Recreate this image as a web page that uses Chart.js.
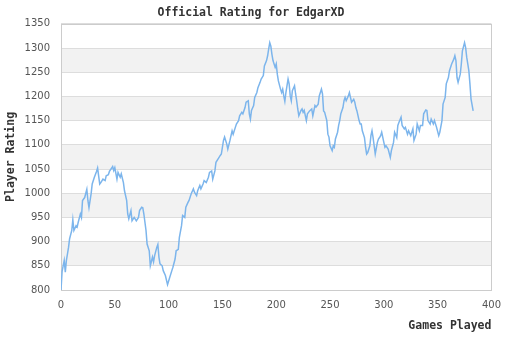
<!DOCTYPE html>
<html>
<head>
<meta charset="utf-8">
<script src="https://cdn.jsdelivr.net/npm/chart.js@4.4.1/dist/chart.umd.min.js"></script>
<style>
    body { margin: 0; background: #fff; }
    #wrap { width: 510px; height: 340px; }
</style>
</head>
<body>
<div id="wrap"><canvas id="ratingChart" width="510" height="340"></canvas></div>
<script>
// games played vs. official rating
const games = [
    0, 1, 2, 3, 4, 5, 7, 8, 10, 11, 12, 14, 15, 16, 18, 19, 20, 22, 24, 25,
    26, 28, 29, 31, 33, 34, 36, 37, 39, 41, 42, 44, 45, 48, 49, 50, 52, 53, 55, 56,
    58, 59, 61, 62, 63, 65, 66, 68, 70, 72, 73, 75, 76, 77, 79, 80, 82, 83, 85, 86,
    87, 89, 90, 91, 92, 94, 95, 97, 99, 101, 103, 104, 106, 107, 109, 110, 112, 113, 115, 116,
    118, 119, 121, 123, 124, 126, 127, 129, 130, 132, 133, 135, 137, 138, 140, 141, 143, 144, 146, 148,
    149, 151, 152, 154, 155, 157, 159, 160, 162, 163, 165, 166, 168, 169, 171, 172, 174, 175, 176, 177,
    179, 180, 182, 183, 185, 186, 188, 189, 191, 192, 193, 194, 195, 196, 197, 199, 200, 201, 202, 204,
    205, 206, 207, 208, 209, 211, 212, 213, 214, 215, 217, 218, 219, 220, 221, 223, 224, 225, 226, 228,
    229, 230, 231, 233, 234, 236, 237, 239, 240, 242, 243, 244, 245, 247, 248, 249, 250, 252, 253, 254,
    255, 257, 258, 259, 260, 262, 263, 264, 265, 267, 268, 269, 270, 272, 273, 274, 275, 277, 278, 279,
    280, 282, 283, 284, 285, 287, 288, 289, 290, 291, 292, 294, 295, 296, 297, 298, 300, 301, 302, 304,
    306, 307, 309, 310, 312, 313, 314, 316, 317, 319, 320, 322, 323, 325, 327, 328, 330, 331, 333, 334,
    336, 337, 339, 340, 341, 343, 344, 346, 347, 349, 351, 352, 354, 355, 357, 358, 360, 361, 363, 365,
    366, 367, 368, 369, 371, 372, 373, 375, 376, 377, 379, 380, 381, 383
];
const ratings = [
    800, 838, 850, 861, 837, 861, 888, 906, 923, 945, 923, 933, 930, 940, 957, 950, 985, 991, 1008, 985,
    970, 999, 1019, 1033, 1045, 1052, 1019, 1022, 1029, 1026, 1036, 1038, 1045, 1055, 1047, 1053, 1029, 1043, 1033, 1040,
    1022, 1005, 985, 957, 947, 964, 943, 950, 943, 950, 964, 971, 970, 957, 923, 895, 881, 850, 868, 858,
    871, 888, 894, 868, 854, 850, 840, 830, 811, 826, 840, 847, 864, 881, 884, 909, 933, 954, 950, 971,
    981, 985, 999, 1009, 1002, 995, 1005, 1016, 1009, 1019, 1026, 1022, 1033, 1043, 1046, 1029, 1046, 1064, 1071, 1078,
    1081, 1109, 1116, 1102, 1091, 1109, 1129, 1122, 1136, 1143, 1150, 1160, 1167, 1164, 1177, 1188, 1191, 1164, 1153, 1171,
    1181, 1198, 1208, 1218, 1229, 1236, 1243, 1263, 1274, 1284, 1298, 1311, 1304, 1287, 1274, 1260, 1267, 1246, 1232, 1215,
    1208, 1215, 1201, 1190, 1208, 1236, 1226, 1201, 1191, 1212, 1222, 1205, 1191, 1174, 1160, 1171, 1174, 1167, 1171, 1150,
    1164, 1167, 1170, 1174, 1160, 1181, 1178, 1184, 1201, 1215, 1205, 1170, 1167, 1150, 1122, 1116, 1098, 1088, 1098, 1095,
    1112, 1126, 1140, 1150, 1164, 1177, 1191, 1198, 1191, 1201, 1208, 1198, 1188, 1194, 1188, 1177, 1170, 1150, 1143, 1143,
    1129, 1115, 1095, 1081, 1084, 1098, 1119, 1129, 1115, 1098, 1081, 1105, 1112, 1115, 1119, 1126, 1105, 1095, 1098, 1091,
    1074, 1088, 1105, 1126, 1115, 1140, 1146, 1157, 1140, 1133, 1136, 1122, 1129, 1119, 1133, 1109, 1122, 1143, 1129, 1140,
    1140, 1164, 1172, 1171, 1150, 1143, 1153, 1143, 1150, 1136, 1119, 1126, 1150, 1184, 1198, 1226, 1239, 1253, 1267, 1277,
    1284, 1274, 1239, 1229, 1246, 1267, 1294, 1311, 1301, 1281, 1253, 1226, 1195, 1170
];
// shaded rating bands (lower bound of each 50-point band)
const bandStarts = [850, 950, 1050, 1150, 1250];

const titleFont = { family: "'DejaVu Sans Mono', monospace", size: 11.5, weight: "bold" };
const tickFont = { family: "'DejaVu Sans', sans-serif", size: 10 };

const plotDecor = {
    id: "plotDecor",
    beforeDraw(chart) {
        const { ctx, chartArea, scales } = chart;
        const y = scales.y;
        ctx.save();
        ctx.fillStyle = "#f2f2f2";
        bandStarts.forEach(v => {
            const top = y.getPixelForValue(v + 50);
            const bottom = y.getPixelForValue(v);
            ctx.fillRect(chartArea.left, top, chartArea.right - chartArea.left, bottom - top);
        });
        ctx.restore();
    },
    beforeDatasetsDraw(chart) {
        const { ctx, chartArea } = chart;
        ctx.save();
        ctx.strokeStyle = "#cccccc";
        ctx.lineWidth = 1;
        ctx.strokeRect(Math.round(chartArea.left) + 0.5, Math.round(chartArea.top) + 0.5,
            Math.round(chartArea.right - chartArea.left), Math.round(chartArea.bottom - chartArea.top));
        ctx.restore();
    }
};

new Chart(document.getElementById("ratingChart"), {
    type: "line",
    data: {
        datasets: [{
            label: "Rating",
            data: games.map((g, i) => ({ x: g, y: ratings[i] })),
            borderColor: "#7cb5ec",
            borderWidth: 1.5,
            pointRadius: 0,
            tension: 0,
            fill: false
        }]
    },
    options: {
        responsive: false,
        animation: false,
        layout: { padding: { left: 0, right: 8, top: 4, bottom: 0 } },
        plugins: {
            legend: { display: false },
            tooltip: { enabled: false },
            title: {
                display: true,
                text: "Official Rating for EdgarXD",
                color: "#333333",
                font: titleFont,
                padding: { top: 2, bottom: 4 }
            }
        },
        scales: {
            x: {
                type: "linear",
                min: 0,
                max: 400,
                afterFit: (scale) => { scale.height = 50; },
                grid: { display: false, drawTicks: false },
                border: { display: false },
                ticks: { stepSize: 50, color: "#555555", font: tickFont, padding: 9, maxRotation: 0 },
                title: {
                    display: true,
                    text: "Games Played",
                    align: "end",
                    color: "#333333",
                    font: titleFont,
                    padding: { top: 0, bottom: 7 }
                }
            },
            y: {
                min: 800,
                max: 1350,
                afterFit: (scale) => { scale.width = 61; },
                grid: { color: "#dddddd", drawTicks: false },
                border: { display: false },
                ticks: {
                    stepSize: 50,
                    color: "#555555",
                    font: tickFont,
                    padding: 11,
                    callback: (value) => String(value)
                },
                title: {
                    display: true,
                    text: "Player Rating",
                    color: "#333333",
                    font: titleFont,
                    padding: { top: 4, bottom: 4 }
                }
            }
        }
    },
    plugins: [plotDecor]
});
</script>
</body>
</html>
